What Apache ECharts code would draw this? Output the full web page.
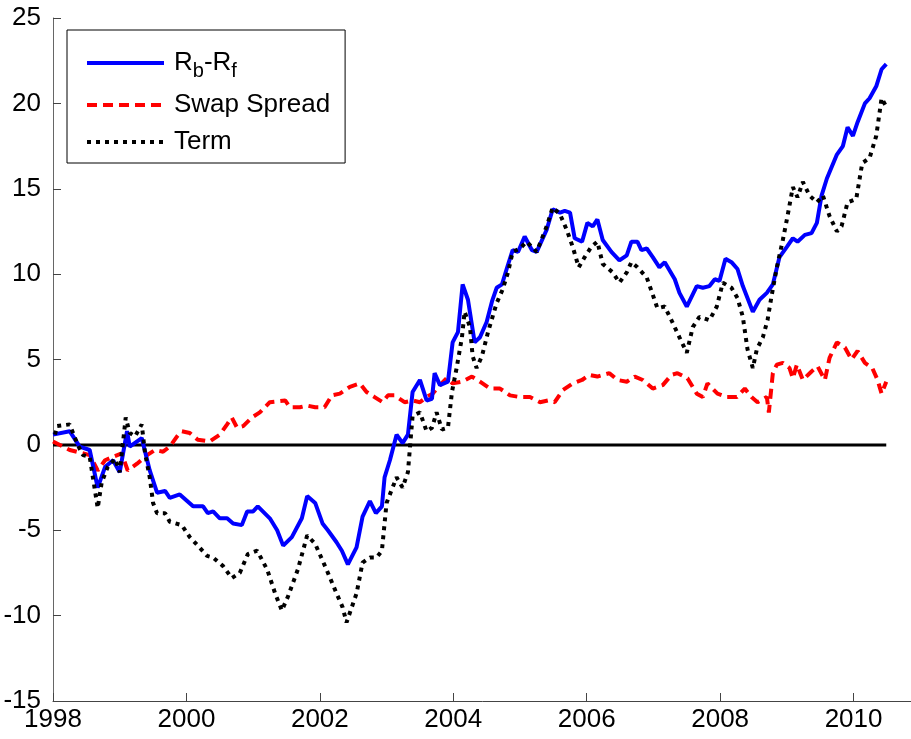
<!DOCTYPE html>
<html>
<head>
<meta charset="utf-8">
<script src="https://cdn.jsdelivr.net/npm/echarts@6/dist/echarts.min.js"></script>
<style>
html,body{margin:0;padding:0;background:#fff;}
#chart{width:911px;height:739px;}
</style>
</head>
<body>
<div id="chart"></div>
<script>
// ---- Data (decimal years, values) ----
const xTicks = [1998, 2000, 2002, 2004, 2006, 2008, 2010];
const yTicks = [-15, -10, -5, 0, 5, 10, 15, 20, 25];

const rbYears = [1998.00,1998.25,1998.40,1998.55,1998.67,1998.78,1998.90,1999.00,1999.11,1999.15,1999.33,1999.45,1999.56,1999.68,1999.75,1999.90,2000.10,2000.25,2000.32,2000.40,2000.50,2000.61,2000.70,2000.83,2000.91,2001.00,2001.07,2001.25,2001.36,2001.45,2001.58,2001.73,2001.81,2001.93,2002.04,2002.12,2002.25,2002.33,2002.42,2002.55,2002.64,2002.75,2002.84,2002.93,2002.97,2003.05,2003.15,2003.24,2003.32,2003.39,2003.50,2003.60,2003.68,2003.72,2003.80,2003.92,2003.99,2004.07,2004.14,2004.22,2004.32,2004.40,2004.50,2004.58,2004.65,2004.73,2004.80,2004.89,2004.97,2005.07,2005.18,2005.25,2005.40,2005.49,2005.60,2005.67,2005.75,2005.82,2005.93,2006.01,2006.09,2006.16,2006.24,2006.37,2006.49,2006.60,2006.67,2006.76,2006.82,2006.90,2006.99,2007.09,2007.17,2007.32,2007.39,2007.50,2007.65,2007.74,2007.84,2007.92,2007.99,2008.08,2008.17,2008.26,2008.34,2008.49,2008.59,2008.70,2008.79,2008.89,2009.00,2009.09,2009.16,2009.27,2009.37,2009.45,2009.52,2009.60,2009.75,2009.84,2009.91,2009.99,2010.06,2010.17,2010.24,2010.34,2010.42,2010.49];
const rbValues = [0.6,0.8,-0.1,-0.3,-2.5,-1.3,-0.9,-1.6,0.8,-0.1,0.4,-1.5,-2.8,-2.7,-3.1,-2.9,-3.6,-3.6,-4.0,-3.9,-4.3,-4.3,-4.6,-4.7,-3.9,-3.9,-3.6,-4.3,-5.0,-5.9,-5.4,-4.3,-3.0,-3.4,-4.6,-5.0,-5.7,-6.2,-7.0,-6.0,-4.2,-3.3,-4.0,-3.6,-1.9,-0.9,0.6,0.1,0.6,3.1,3.8,2.6,2.7,4.2,3.5,3.7,6.0,6.6,9.4,8.5,6.0,6.3,7.2,8.4,9.2,9.4,10.3,11.4,11.3,12.2,11.4,11.3,12.6,13.8,13.6,13.7,13.6,12.1,11.9,13.0,12.8,13.2,12.0,11.3,10.8,11.1,11.9,11.9,11.4,11.5,11.0,10.4,10.7,9.7,8.9,8.1,9.3,9.2,9.3,9.7,9.6,10.9,10.7,10.3,9.3,7.8,8.5,8.9,9.4,11.0,11.6,12.1,11.9,12.3,12.4,13.0,14.6,15.6,17.0,17.5,18.6,18.1,18.9,20.0,20.3,21.0,22.0,22.3];

const swapYears = [1998.00,1998.25,1998.55,1998.67,1998.78,1998.90,1999.03,1999.12,1999.26,1999.41,1999.53,1999.65,1999.75,1999.86,1999.93,2000.05,2000.17,2000.35,2000.50,2000.61,2000.68,2000.76,2000.85,2000.98,2001.10,2001.25,2001.48,2001.55,2001.70,2001.81,2001.93,2002.07,2002.18,2002.30,2002.45,2002.60,2002.70,2002.82,2002.94,2003.02,2003.12,2003.27,2003.39,2003.50,2003.60,2003.69,2003.80,2003.90,2003.99,2004.13,2004.28,2004.40,2004.55,2004.70,2004.85,2005.00,2005.15,2005.30,2005.42,2005.52,2005.64,2005.79,2005.93,2006.04,2006.16,2006.34,2006.46,2006.60,2006.72,2006.84,2006.99,2007.14,2007.27,2007.36,2007.51,2007.65,2007.74,2007.81,2007.96,2008.10,2008.25,2008.37,2008.47,2008.56,2008.70,2008.73,2008.79,2008.85,2008.94,2009.04,2009.09,2009.15,2009.24,2009.37,2009.46,2009.57,2009.64,2009.75,2009.87,2009.97,2010.06,2010.17,2010.28,2010.36,2010.42,2010.49];
const swapValues = [0.2,-0.3,-0.6,-1.5,-0.9,-0.7,-0.5,-1.5,-1.1,-0.6,-0.3,-0.4,-0.1,0.5,0.8,0.7,0.3,0.2,0.6,1.2,1.6,1.0,1.1,1.6,1.9,2.5,2.6,2.2,2.2,2.3,2.2,2.2,2.9,3.0,3.4,3.6,3.1,2.8,2.5,2.9,2.9,2.5,2.6,2.5,2.8,3.0,3.5,3.9,3.6,3.7,4.0,3.7,3.3,3.3,2.9,2.8,2.8,2.5,2.6,2.5,3.2,3.6,3.8,4.1,4.0,4.2,3.8,3.7,4.0,3.8,3.3,3.5,4.1,4.2,3.9,3.0,2.8,3.6,3.0,2.8,2.8,3.3,2.8,2.5,2.8,1.9,4.2,4.7,4.8,4.5,3.9,4.7,3.8,4.3,4.6,3.8,5.1,6.0,5.7,5.0,5.5,4.8,4.5,3.8,3.0,3.7];

const termYears = [1998.03,1998.06,1998.25,1998.37,1998.45,1998.55,1998.67,1998.73,1998.82,1998.93,1999.00,1999.09,1999.15,1999.23,1999.33,1999.38,1999.45,1999.50,1999.56,1999.68,1999.75,1999.93,2000.05,2000.17,2000.31,2000.40,2000.55,2000.68,2000.80,2000.92,2001.06,2001.21,2001.33,2001.43,2001.52,2001.67,2001.81,2001.93,2002.10,2002.25,2002.34,2002.40,2002.55,2002.64,2002.75,2002.85,2002.93,2003.00,2003.09,2003.15,2003.24,2003.32,2003.39,2003.50,2003.60,2003.68,2003.75,2003.83,2003.92,2003.98,2004.05,2004.13,2004.17,2004.25,2004.29,2004.35,2004.43,2004.52,2004.65,2004.74,2004.82,2004.89,2005.00,2005.10,2005.25,2005.40,2005.49,2005.60,2005.70,2005.79,2005.88,2005.97,2006.07,2006.16,2006.24,2006.39,2006.49,2006.60,2006.67,2006.76,2006.90,2006.99,2007.06,2007.17,2007.27,2007.39,2007.50,2007.59,2007.69,2007.84,2007.95,2008.04,2008.17,2008.26,2008.34,2008.41,2008.49,2008.55,2008.64,2008.71,2008.77,2008.85,2008.94,2009.01,2009.09,2009.16,2009.24,2009.34,2009.45,2009.54,2009.64,2009.75,2009.82,2009.91,2010.04,2010.13,2010.24,2010.34,2010.42,2010.49];
const termValues = [0.6,1.1,1.2,0.0,-0.6,-0.7,-3.7,-2.2,-1.3,-0.8,-1.6,1.6,0.7,0.5,1.2,-0.5,-1.9,-3.4,-4.0,-4.0,-4.5,-4.7,-5.4,-5.9,-6.5,-6.6,-7.1,-7.8,-7.5,-6.4,-6.2,-7.3,-8.7,-9.7,-8.9,-7.3,-5.3,-5.8,-7.3,-8.7,-9.5,-10.4,-8.7,-6.9,-6.6,-6.6,-6.2,-3.4,-2.5,-1.9,-2.5,-1.6,1.7,1.9,0.8,1.0,1.9,0.9,1.0,3.1,4.5,6.3,7.8,6.9,5.2,4.5,5.2,6.6,8.3,9.1,10.1,11.3,11.5,11.9,11.3,12.8,13.9,13.5,12.6,11.6,10.4,11.0,11.6,11.9,10.6,10.1,9.5,10.1,10.7,10.4,9.8,8.8,8.0,8.1,7.3,6.3,5.4,6.9,7.5,7.3,8.1,9.5,9.2,8.6,7.5,5.6,4.5,5.6,6.3,7.3,8.7,10.4,12.0,13.4,15.1,14.5,15.4,14.6,14.2,14.6,13.4,12.5,12.8,14.2,14.4,16.5,16.8,18.1,20.3,19.8];

const zeroYears = [1998.00, 2010.49];
const zeroValues = [0, 0];

const pairs = (xs, ys) => xs.map((x, i) => [x, ys[i]]);

const FONT = "'Liberation Sans', Arial, Helvetica, sans-serif";
const NOSYM = {color: 'rgba(0,0,0,0)', borderColor: 'rgba(0,0,0,0)', borderWidth: 0, opacity: 0};

const chart = echarts.init(document.getElementById('chart'), null, {renderer: 'canvas'});
chart.setOption({
  animation: false,
  backgroundColor: '#ffffff',
  grid: {left: 53, top: 18, bottom: 38, right: -76, containLabel: false, outerBoundsMode: 'none'},
  xAxis: {
    type: 'value', min: 1998, max: 2012, interval: 2,
    axisLine: {show: true, onZero: false, lineStyle: {color: '#444', width: 1}},
    axisTick: {show: true, inside: true, length: 8, lineStyle: {color: '#444'}},
    splitLine: {show: false},
    axisLabel: {color: '#000', fontSize: 26, fontFamily: FONT, margin: 6, showMaxLabel: false,
                formatter: v => String(v)}
  },
  yAxis: {
    type: 'value', min: -15, max: 25, interval: 5,
    axisLine: {show: true, onZero: false, lineStyle: {color: '#666', width: 1}},
    axisTick: {show: true, inside: true, length: 8, lineStyle: {color: '#444'}},
    splitLine: {show: false},
    axisLabel: {color: '#000', fontSize: 26, fontFamily: FONT, margin: 12}
  },
  legend: {
    orient: 'vertical', left: 67, top: 30,
    data: ['Rb-Rf', 'Swap Spread', 'Term'],
    itemWidth: 77, itemHeight: 14, itemGap: 11,
    padding: [15, 15, 8, 18],
    backgroundColor: '#fff', borderColor: '#000', borderWidth: 1, borderRadius: 0,
    itemStyle: NOSYM,
    lineStyle: {width: 4},
    formatter: function (name) {
      if (name === 'Rb-Rf') return '{a|R}{s|b}{a|-R}{s|f}';
      return '{a|' + name + '}';
    },
    textStyle: {
      color: '#000', fontFamily: FONT, fontSize: 26, padding: [0, 0, 0, 5],
      rich: {
        a: {fontSize: 26, fontFamily: FONT, color: '#000', lineHeight: 30},
        s: {fontSize: 20, fontFamily: FONT, color: '#000', lineHeight: 20, padding: [16, 0, 0, 0]}
      }
    }
  },
  series: [
    {name: 'Rb-Rf', type: 'line', data: pairs(rbYears, rbValues), symbol: 'none', z: 4,
     lineStyle: {color: '#0000ff', width: 4}, itemStyle: {color: '#0000ff'}},
    {name: 'Swap Spread', type: 'line', data: pairs(swapYears, swapValues), symbol: 'none', z: 3,
     lineStyle: {color: '#ff0000', width: 4, type: [10, 6]}, itemStyle: {color: '#ff0000'}},
    {name: 'Term', type: 'line', data: pairs(termYears, termValues), symbol: 'none', z: 5,
     lineStyle: {color: '#000000', width: 4, type: [4, 5]}, itemStyle: {color: '#000'}},
    {name: 'zero', type: 'line', data: pairs(zeroYears, zeroValues), symbol: 'none', z: 2,
     lineStyle: {color: '#000000', width: 3}, silent: true}
  ]
});
</script>
</body>
</html>
